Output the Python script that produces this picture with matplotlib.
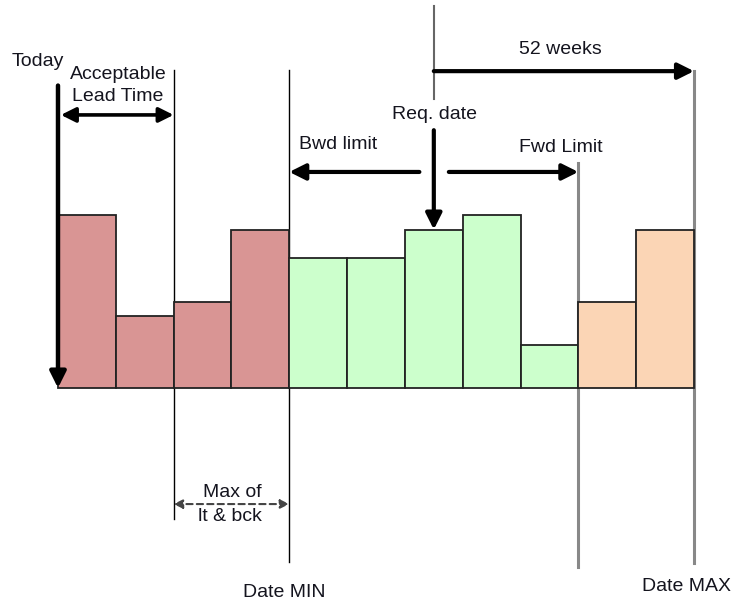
import numpy as np
import matplotlib.pyplot as plt

plt.rcParams['font.family'] = ['Liberation Sans', 'DejaVu Sans']

# weekly buckets and their quantities
weeks = np.arange(11)
demand = [12, 5, 6, 11, 9, 9, 11, 12, 3, 6, 11]
zones = ['lead'] * 4 + ['window'] * 5 + ['late'] * 2
zone_colors = {'lead': '#D99594', 'window': '#CCFFCC', 'late': '#FBD5B5'}

fig = plt.figure(figsize=(7.31, 6.03), dpi=100)
ax = fig.add_axes([0, 0, 1, 1])
ax.set_xlim(-1.003, 11.64)
ax.set_ylim(-14.93, 26.94)
ax.axis('off')

ax.bar(weeks, demand, width=1, align='edge',
       color=[zone_colors[z] for z in zones], edgecolor='#222222', linewidth=1.3, zorder=2)

txt = dict(color='#14141e', fontsize=14, ha='center', va='center')

# reference lines
ax.plot([2, 2], [22.1, -9.1], color='black', lw=1, zorder=1)
ax.plot([4, 4], [22.1, -12.1], color='black', lw=1, zorder=1)
ax.plot([6.5, 6.5], [26.5, 20.1], color='#666666', lw=1.5)
ax.plot([9, 9], [15.6, -12.4], color='#888888', lw=2.2, zorder=1)
ax.plot([11, 11], [22.0, -12.15], color='#888888', lw=2.2, zorder=1)

def arrow(x0, y0, x1, y1, style='-|>', lw=3, ms=24, color='black', ls='-'):
    ax.annotate('', xy=(x1, y1), xytext=(x0, y0),
                arrowprops=dict(arrowstyle=style, lw=lw, color=color, linestyle=ls,
                                mutation_scale=ms, shrinkA=0, shrinkB=0), zorder=3)

# Today
arrow(0, 21.0, 0, 0, lw=3.2)
ax.text(-0.35, 22.7, 'Today', **txt)

# Acceptable lead time
arrow(0.05, 18.96, 2, 18.96, style='<|-|>', lw=2.6, ms=22)
ax.text(1.04, 21.0, 'Acceptable\nLead Time', linespacing=1.45, **txt)

# Requested date
ax.text(6.52, 18.96, 'Req. date', **txt)
arrow(6.5, 17.9, 6.5, 11, lw=3)

# 52 weeks horizon
arrow(6.5, 22.0, 11, 22.0, lw=3)
ax.text(8.69, 23.5, '52 weeks', **txt)

# backward / forward limits
arrow(6.25, 15.0, 4, 15.0, lw=3)
arrow(6.76, 15.0, 9, 15.0, lw=3)
ax.text(4.17, 16.9, 'Bwd limit', **{**txt, 'ha': 'left'})
ax.text(8.70, 16.7, 'Fwd Limit', **txt)

# max of lead time & backward
arrow(2, -8.06, 4, -8.06, style='<|-|>', lw=1.5, ms=13, color='#444444', ls=(0, (3, 2)))
ax.text(3.01, -7.25, 'Max of', zorder=4,
        bbox=dict(fc='white', ec='none', pad=0), **txt)
ax.text(2.98, -8.9, 'lt & bck', zorder=4,
        bbox=dict(fc='white', ec='none', pad=0), **txt)

ax.text(3.91, -14.17, 'Date MIN', **txt)
ax.text(10.87, -13.8, 'Date MAX', **txt)

fig.savefig('out.png', dpi=100)
